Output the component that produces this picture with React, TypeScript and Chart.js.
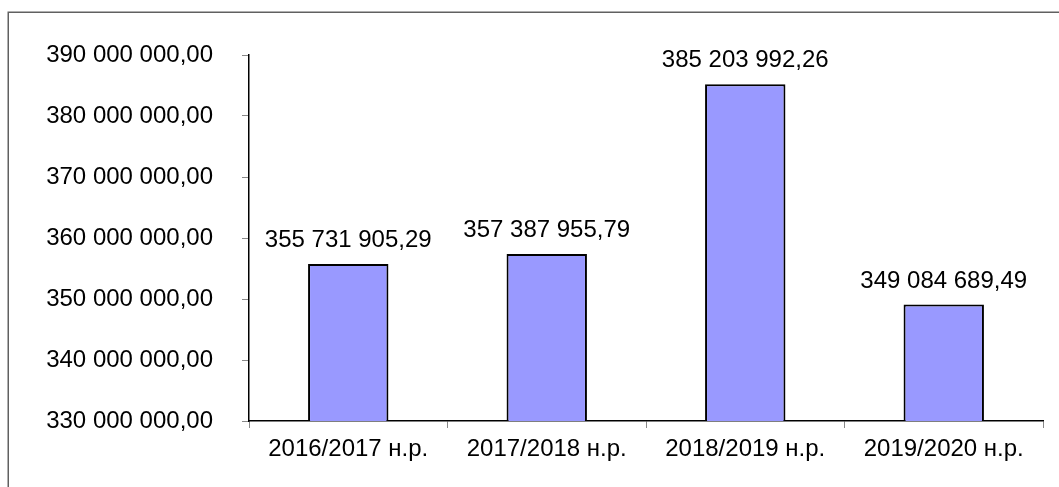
import React, { useEffect, useRef } from "react";
import { Chart, registerables } from "chart.js";

Chart.register(...registerables);

const categories = ["2016/2017 н.р.", "2017/2018 н.р.", "2018/2019 н.р.", "2019/2020 н.р."];
const values = [355731905.29, 357387955.79, 385203992.26, 349084689.49];
const yMin = 330000000;
const yMax = 390000000;
const yStep = 10000000;

const FONT = "'Liberation Sans', Arial, sans-serif";

function fmt(v: number): string {
  const fixed = v.toFixed(2);
  const [intPart, dec] = fixed.split(".");
  const grouped = intPart.replace(/\B(?=(\d{3})+(?!\d))/g, " ");
  return grouped + "," + dec;
}

const frame = {
  id: "frame",
  beforeDraw(chart: any) {
    const ctx = chart.ctx;
    ctx.save();
    ctx.fillStyle = "#ffffff";
    ctx.fillRect(0, 0, chart.width, chart.height);
    ctx.strokeStyle = "#606060";
    ctx.lineWidth = 1.5;
    ctx.strokeRect(8.25, 12.25, chart.width + 20, chart.height + 20);
    ctx.restore();
  },
};

const valueLabels = {
  id: "valueLabels",
  afterDatasetsDraw(chart: any) {
    const ctx = chart.ctx;
    const meta = chart.getDatasetMeta(0);
    ctx.save();
    ctx.font = `24px ${FONT}`;
    ctx.fillStyle = "#000000";
    ctx.textAlign = "center";
    ctx.textBaseline = "alphabetic";
    meta.data.forEach((bar: any, i: number) => {
      ctx.fillText(fmt(values[i]), bar.x, bar.y - 17);
    });
    ctx.restore();
  },
};

export default function App() {
  const ref = useRef<HTMLCanvasElement>(null);
  useEffect(() => {
    document.body.style.margin = "0";
    const chart = new Chart(ref.current!, {
      type: "bar",
      data: {
        labels: categories,
        datasets: [
          {
            data: values,
            backgroundColor: "#9999FF",
            borderColor: "#000000",
            borderWidth: 2,
            borderSkipped: false,
            barPercentage: 0.81,
            categoryPercentage: 0.5,
          },
        ],
      },
      options: {
        animation: false,
        responsive: false,
        layout: { padding: { top: 55, right: 16, left: 0, bottom: 0 } },
        plugins: { legend: { display: false }, tooltip: { enabled: false } },
        scales: {
          x: {
            offset: true,
            grid: {
              offset: true,
              drawOnChartArea: false,
              drawTicks: true,
              tickLength: 7,
              color: "#888888",
            },
            border: { display: true, color: "#000000", width: 1.5 },
            ticks: { color: "#000000", font: { family: FONT, size: 24 }, padding: 7, maxRotation: 0 },
            afterFit: (s: any) => {
              s.height = 66;
            },
          },
          y: {
            min: yMin,
            max: yMax,
            grid: {
              drawOnChartArea: false,
              drawTicks: true,
              tickLength: 7,
              color: "#888888",
            },
            border: { display: true, color: "#000000", width: 1.5 },
            ticks: {
              stepSize: yStep,
              color: "#000000",
              font: { family: FONT, size: 24 },
              padding: 29,
              callback: (v: any) => fmt(Number(v)),
            },
            afterFit: (s: any) => {
              s.width = 249;
            },
          },
        },
      },
      plugins: [frame, valueLabels],
    });
    return () => chart.destroy();
  }, []);
  return (
    <div style={{ width: 1059, height: 487 }}>
      <canvas ref={ref} width={1059} height={487} style={{ display: "block" }} />
    </div>
  );
}
